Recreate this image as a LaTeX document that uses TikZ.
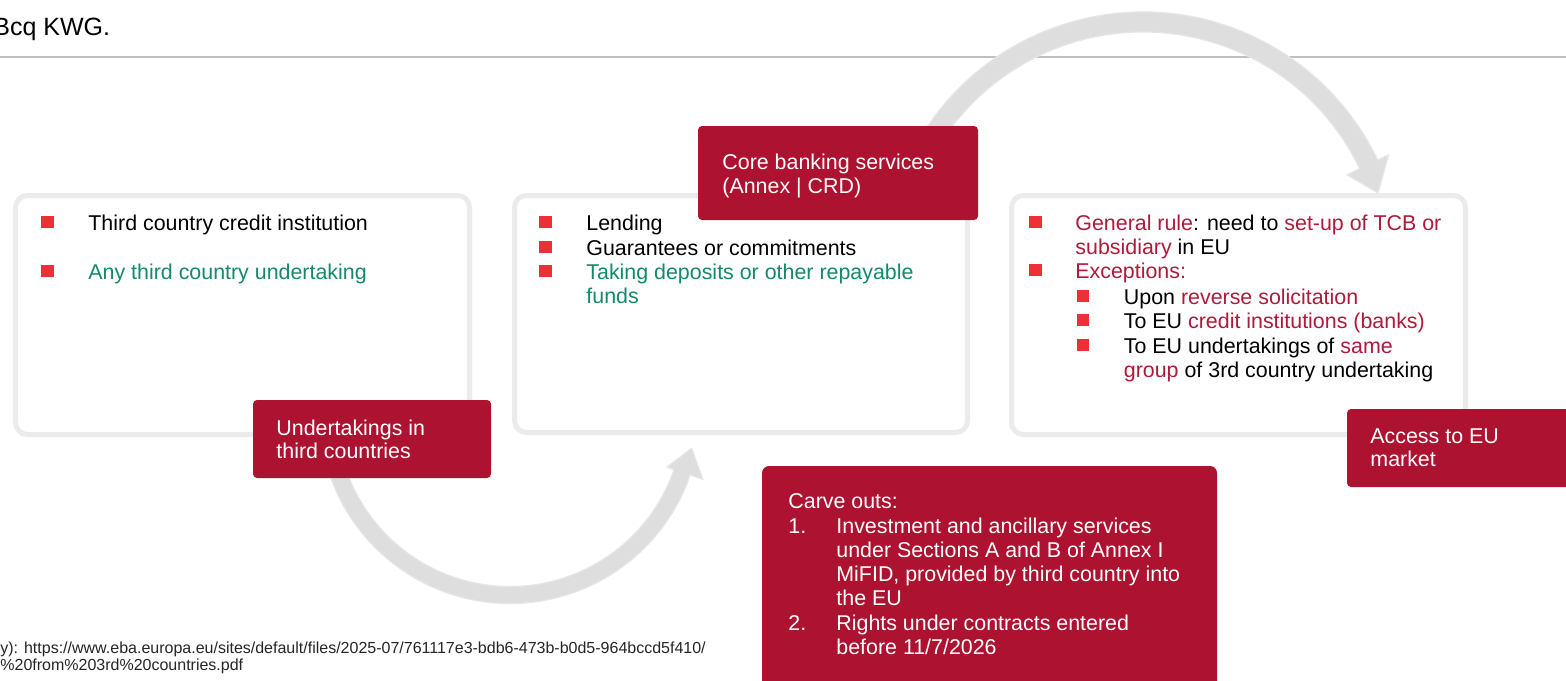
\documentclass[tikz,border=0pt]{standalone}
\usepackage{fontspec}
\setmainfont{Liberation Sans}
\definecolor{tagred}{HTML}{AD1230}
\definecolor{bulletred}{HTML}{EC3038}
\definecolor{textred}{HTML}{AE1A3A}
\definecolor{textgreen}{HTML}{138A6C}
\definecolor{panelgray}{HTML}{EBEBEB}
\definecolor{arrowgray}{HTML}{DEDEDE}
\definecolor{arrowedge}{HTML}{E6E6E6}
\definecolor{rulegray}{HTML}{BFBFBF}
\newcommand\redtx[1]{\textcolor{textred}{#1}}
\newcommand\greentx[1]{\textcolor{textgreen}{#1}}
\newcommand\bodyfont{\fontsize{10.7pt}{12.2pt}\selectfont}
% red square bullet, (#1,#2) = left edge / text baseline
\newcommand\sqbullet[2]{\fill[bulletred] (#1,#2-14) rectangle ++(12.5,12);}

\begin{document}
\begin{tikzpicture}[x=0.5pt,y=-0.5pt,
  panel/.style={draw=panelgray, line width=2.5pt, rounded corners=6pt, fill=white},
  tag/.style={fill=tagred, rounded corners=2pt},
  txt/.style={anchor=base west, inner sep=0pt, font=\bodyfont},
  wtxt/.style={txt, text=white},
  flow/.style={fill=arrowgray, draw=arrowedge, line width=0.6pt, line join=round}]
\clip (0,0) rectangle (1566,680);
\fill[white] (0,0) rectangle (1566,680);

% heading remnant and rule
\node[anchor=base west, inner sep=0pt, font=\fontsize{12.5pt}{14pt}\selectfont] (head) at (-7,35) {Bcq KWG.};
\draw[rulegray, line width=1pt] (0,57) -- (1566,57);

% panels
\draw[panel] (15.5,195.5) rectangle (469.5,434.5);
\draw[panel] (514.5,195.5) rectangle (967.5,432.5);
\draw[panel] (1011.5,195.5) rectangle (1465.5,434.5);

% curved flow arrows
\begin{scope}[shift={(1143,272)}]
  \path[flow] (210:260) arc[start angle=210, end angle=334.5, radius=260]
    -- (334.5:272) -- (341.4:248) -- (334.5:226) -- (334.5:240)
    arc[start angle=334.5, end angle=210, radius=240] -- cycle;
\end{scope}
\begin{scope}[shift={(510,413)}]
  \path[flow] (165:190.5) arc[start angle=165, end angle=19, radius=190.5]
    -- (19:204) -- (11:185) -- (19:166) -- (19:173.5)
    arc[start angle=19, end angle=165, radius=173.5] -- cycle;
\end{scope}

% tags
\fill[tag] (253,400) rectangle (491,478);
\fill[tag] (698,126) rectangle (978,220);
\fill[tag, rounded corners=3.5pt] (762,466) rectangle (1217,700);
\fill[tag] (1347,409) rectangle (1590,487);

% left panel
\sqbullet{41}{230}
\sqbullet{41}{279}
\node[txt] (l1) at (88,230) {Third country credit institution};
\node[txt] (l2) at (88,279) {\greentx{Any third country undertaking}};

% centre panel
\sqbullet{539}{230}
\sqbullet{539}{255}
\sqbullet{539}{279}
\node[txt] (c1) at (586,230) {Lending};
\node[txt] (c2) at (586,255) {Guarantees or commitments};
\node[txt] (c3) at (586,279) {\greentx{Taking deposits or other repayable}};
\node[txt] (c4) at (586,303) {\greentx{funds}};

% right panel
\sqbullet{1029}{230}
\sqbullet{1029}{278}
\sqbullet{1076.5}{304}
\sqbullet{1076.5}{328}
\sqbullet{1076.5}{353}
\node[txt] (r1) at (1075,230) {\redtx{General rule}: need to \redtx{set-up of TCB or}};
\node[txt] (r2) at (1075,254) {\redtx{subsidiary} in EU};
\node[txt] (r3) at (1075,278) {\redtx{Exceptions:}};
\node[txt] (r4) at (1123.5,304) {Upon \redtx{reverse solicitation}};
\node[txt] (r5) at (1123.5,328) {To EU \redtx{credit institutions (banks)}};
\node[txt] (r6) at (1123.5,353) {To EU undertakings of \redtx{same}};
\node[txt] (r7) at (1123.5,377) {\redtx{group} of 3rd country undertaking};

% tag texts
\node[wtxt] (u1) at (276,435) {Undertakings in};
\node[wtxt] (u2) at (276,458) {third countries};
\node[wtxt] (k1) at (722,169) {Core banking services};
\node[wtxt] (k2) at (722,193) {(Annex | CRD)};
\node[wtxt] (a1) at (1370,443) {Access to EU};
\node[wtxt] (a2) at (1370,466) {market};

\node[wtxt] (v0) at (788,508) {Carve outs:};
\node[wtxt] (n1) at (788,533) {1.};
\node[wtxt] (v1) at (836,533) {Investment and ancillary services};
\node[wtxt] (v2) at (836,557) {under Sections A and B of Annex I};
\node[wtxt] (v3) at (836,581) {MiFID, provided by third country into};
\node[wtxt] (v4) at (836,605) {the EU};
\node[wtxt] (n2) at (788,630) {2.};
\node[wtxt] (v5) at (836,630) {Rights under contracts entered};
\node[wtxt] (v6) at (836,654) {before 11/7/2026};

% source note
\node[anchor=base west, inner sep=0pt, font=\fontsize{8pt}{9pt}\selectfont, text=black!85] (s1) at (0,653)
  {y): https://www.eba.europa.eu/sites/default/files/2025-07/761117e3-bdb6-473b-b0d5-964bccd5f410/};
\node[anchor=base west, inner sep=0pt, font=\fontsize{8pt}{9pt}\selectfont, text=black!85] (s2) at (0,670)
  {\%20from\%203rd\%20countries.pdf};
\end{tikzpicture}
\end{document}
